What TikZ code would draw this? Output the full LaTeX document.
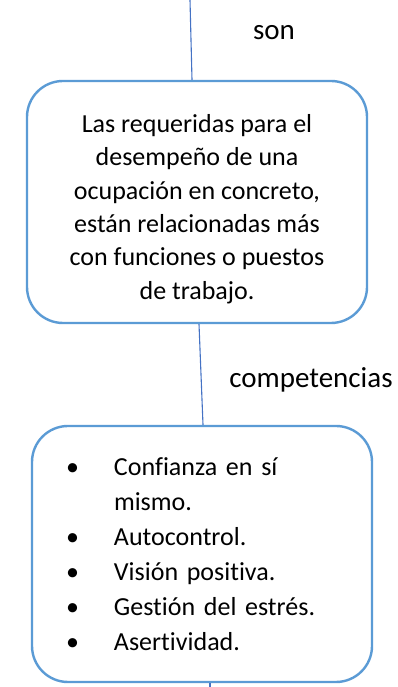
\documentclass[tikz,border=0pt]{standalone}
\usepackage{fontspec}
\setmainfont{Carlito}[Ligatures=NoCommon]
\usetikzlibrary{positioning}
\definecolor{boxblue}{HTML}{5B9BD5}
\definecolor{lineblue}{HTML}{4472C4}
\newcommand\bul{\makebox[48pt][l]{\textbullet}}

\begin{document}
\begin{tikzpicture}[x=1pt,y=1pt,
    concept/.style={draw=boxblue,line width=2.4pt,rounded corners=36pt,minimum width=340pt,fill=white},
    link/.style={draw=lineblue,line width=1.1pt},
    linklabel/.style={font=\fontsize{29}{34}\selectfont}]
    \useasboundingbox (0,0) rectangle (398,687);

    % Boxes
    \node[concept,minimum height=242pt,align=center,text height=199pt,font=\fontsize{26}{33.4}\selectfont] (req) at (197,485)
      {Las requeridas para el\\desempeño de una\\ocupación en concreto,\\están relacionadas más\\con funciones o puestos\\de trabajo.};
    \node[concept,minimum height=256pt,inner xsep=34pt,text width=272pt,align=left,font=\fontsize{26}{35}\selectfont] (comp) at (202,133)
      {\bul Confianza en sí\\\hspace*{48pt}mismo.\\\bul Autocontrol.\\\bul Visión positiva.\\\bul Gestión del estrés.\\\bul Asertividad.};

    % Links
    \coordinate (top) at (190,687);
    \coordinate (bottom) at (210,0);
    \draw[link] (top) -- ([xshift=-5pt]req.north);
    \draw[link] ([xshift=2pt]req.south) -- ([xshift=1pt]comp.north);
    \draw[link] ([xshift=8pt]comp.south) -- (bottom);

    % Labels
    \node[linklabel] (son) at (274,654) {son};
    \node[linklabel] (comps) at (311,307) {competencias};
\end{tikzpicture}
\end{document}
